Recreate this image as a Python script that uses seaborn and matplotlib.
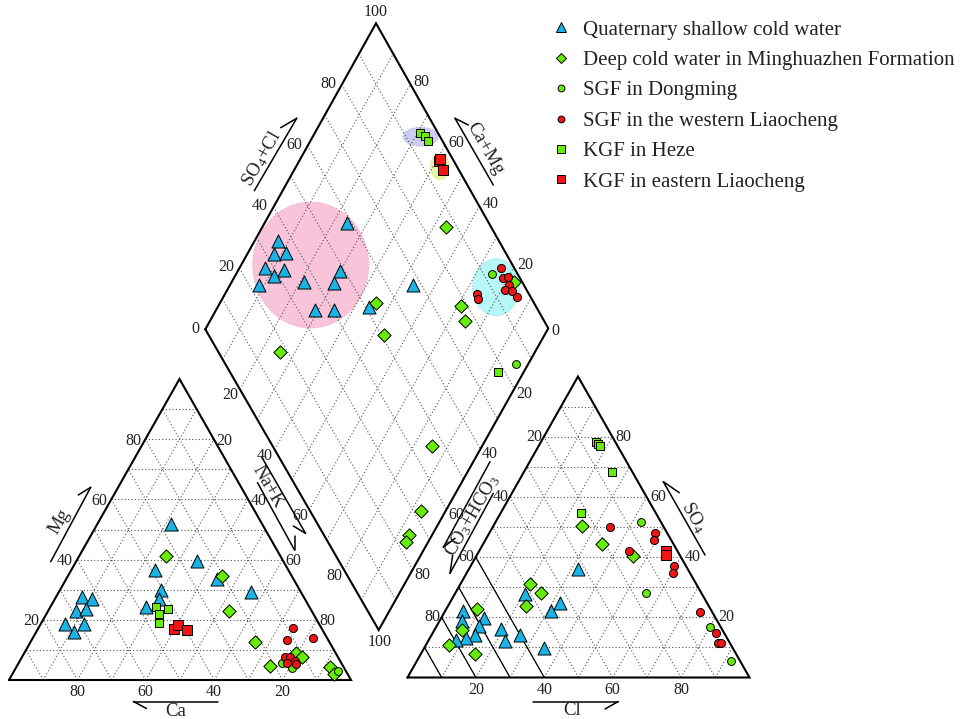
import numpy as np
import matplotlib
matplotlib.use("Agg")
import matplotlib.pyplot as plt
import seaborn as sns
from matplotlib.patches import Ellipse
from matplotlib.lines import Line2D

# ---------------------------------------------------------------- data
group_names = ["Quaternary shallow cold water",
               "Deep cold water in Minghuazhen Formation",
               "SGF in Dongming",
               "SGF in the western Liaocheng",
               "KGF in Heze",
               "KGF in eastern Liaocheng"]
tick_values = [20, 40, 60, 80]

# cation triangle (meq %)
qsc_ca = [26.7, 25.3, 38.9, 40.5, 42.6, 47.9, 22.3, 14.6, 64.7, 62.4, 68.9, 65.6, 74.3, 68.7, 73.0]
qsc_mg = [51.8, 39.6, 36.5, 29.9, 26.9, 24.2, 33.5, 29.3, 27.7, 26.8, 22.9, 23.7, 18.6, 18.6, 15.8]
dcw_ca = [33.5, 20.5, 24.2, 21.7, 21.3, 11.5, 10.6, 4.0, 4.0]
dcw_mg = [41.3, 34.6, 23.0, 12.7, 4.7, 9.1, 7.5, 4.2, 2.0]
sgfd_ca = [17.4, 15.3, 2.3]
sgfd_mg = [5.7, 3.9, 3.1]
sgfw_ca = [8.2, 12.0, 4.1, 15.4, 14.1, 13.2, 15.8, 13.4]
sgfw_mg = [17.4, 13.3, 14.1, 7.7, 7.5, 6.4, 5.7, 5.3]
kgfh_ca = [44.8, 41.8, 45.1, 46.7]
kgfh_mg = [24.4, 23.6, 21.8, 19.0]
kgfe_ca = [43.3, 41.3, 39.7]
kgfe_mg = [16.8, 18.3, 16.6]

# anion triangle (meq %)
qsc_cl = [32.0, 20.6, 32.3, 30.8, 5.2, 6.4, 12.5, 12.3, 19.5, 22.3, 26.0, 12.7, 10.6, 7.9, 35.1]
qsc_so4 = [35.9, 27.7, 24.9, 22.2, 22.2, 18.9, 19.7, 17.1, 16.0, 12.2, 14.1, 14.1, 13.0, 12.5, 9.7]
dcw_cl = [26.0, 34.8, 45.8, 20.2, 25.1, 22.7, 8.8, 8.0, 6.8, 15.8]
dcw_so4 = [50.3, 44.4, 40.4, 31.1, 28.2, 23.8, 22.9, 15.8, 10.8, 7.8]
sgfd_cl = [42.6, 55.8, 80.0, 91.8]
sgfd_so4 = [51.7, 28.2, 16.9, 5.6]
sgfw_cl = [34.3, 48.3, 49.3, 43.8, 59.4, 60.4, 74.6, 82.7, 85.1, 85.8]
sgfw_so4 = [50.1, 48.1, 45.6, 42.0, 37.0, 34.6, 21.9, 14.9, 11.6, 11.6]
kgfh_cl = [16.1, 17.0, 18.0, 25.9, 23.5]
kgfh_so4 = [78.3, 77.6, 76.9, 68.2, 54.8]
kgfe_cl = [54.5, 55.2]
kgfe_so4 = [42.1, 40.7]

# diamond (Na+K %, SO4+Cl %)
qsc_nak = [24.3, 6.9, 7.8, 11.2, 7.4, 13.4, 11.4, 8.4, 21.1, 30.1, 30.0, 28.9, 34.4, 44.2, 53.7]
qsc_scl = [58.7, 35.7, 32.3, 36.1, 27.4, 32.5, 28.6, 22.9, 36.3, 48.7, 44.9, 34.7, 40.4, 51.2, 67.6]
dcw_nak = [53.5, 45.7, 71.0, 74.6, 53.2, 25.6, 85.3, 93.0, 93.2, 93.4, 82.5]
dcw_scl = [86.7, 54.0, 78.1, 76.9, 50.8, 17.8, 46.3, 32.3, 24.6, 22.6, 97.6]
sgfd_nak = [74.7, 96.5]
sgfd_scl = [92.5, 84.8]
sgfw_nak = [76.5, 78.6, 79.7, 81.5, 81.2, 83.2, 85.7, 73.5, 74.8]
sgfw_scl = [96.1, 95.2, 96.6, 95.7, 93.7, 95.5, 96.0, 84.7, 84.2]
kgfh_nak = [30.7, 32.6, 34.4, 92.4]
kgfh_scl = [94.6, 95.6, 95.7, 77.8]
kgfe_nak = [40.8, 40.9, 43.4]
kgfe_scl = [95.6, 96.4, 95.3]

# ---------------------------------------------------------------- style
sns.set_theme(style="white")
plt.rcParams["font.family"] = ["Liberation Serif", "DejaVu Serif"]
plt.rcParams["mathtext.fontset"] = "custom"
plt.rcParams["mathtext.rm"] = "Liberation Serif"
plt.rcParams["mathtext.it"] = "Liberation Serif:italic"

BLUE, GREEN, RED = "#1ab3e6", "#66ee0a", "#f01414"
styles = [("^", BLUE, 88), ("D", GREEN, 46), ("o", GREEN, 32),
          ("o", RED, 34), ("s", GREEN, 40), ("s", RED, 44)]
legend_sizes = [6.8, 4.8, 4.9, 4.9, 5.3, 5.3]
TXT = "#222222"

# geometry (pixel frame of the figure)
C_CA, C_NAK, C_MG = (9, 680), (351, 680), (179.5, 379)
A_HCO3, A_CL, A_SO4 = (407.5, 677.5), (749.5, 677.5), (578, 376.5)
DL, DT, DR, DB = (205.3, 329.3), (376, 23.3), (548.3, 328.3), (378.7, 630)


def cat_xy(ca, mg):
    ca = np.asarray(ca, float) / 100
    mg = np.asarray(mg, float) / 100
    nak = 1 - ca - mg
    return (ca * C_CA[0] + nak * C_NAK[0] + mg * C_MG[0],
            ca * C_CA[1] + nak * C_NAK[1] + mg * C_MG[1])


def an_xy(cl, so4):
    cl = np.asarray(cl, float) / 100
    so4 = np.asarray(so4, float) / 100
    hc = 1 - cl - so4
    return (hc * A_HCO3[0] + cl * A_CL[0] + so4 * A_SO4[0],
            hc * A_HCO3[1] + cl * A_CL[1] + so4 * A_SO4[1])


def dia_xy(nak, scl):
    a = np.asarray(nak, float) / 100
    b = np.asarray(scl, float) / 100
    out = []
    for k in range(2):
        out.append(DL[k] + b * (DT[k] - DL[k]) + a * (DB[k] - DL[k])
                   + a * b * (DR[k] - DT[k] - DB[k] + DL[k]))
    return out[0], out[1]


fig = plt.figure(figsize=(9.63, 7.19), dpi=100)
ax = fig.add_axes([0, 0, 1, 1])
ax.set_xlim(0, 963)
ax.set_ylim(719, 0)
ax.axis("off")

# ellipses highlighting clusters
for (cx, cy, w, h, fc, ec) in [(310.7, 265, 116, 126, "#f8c4da", "#e9a3c6"),
                               (420.7, 136.7, 35, 19, "#cdcdf2", "#a9a9e0"),
                               (440, 166.7, 19, 26, "#e4f7a8", "#c8e680"),
                               (496, 287.3, 47, 57, "#b8f7f7", "#8fe3e3")]:
    ax.add_patch(Ellipse((cx, cy), w, h, fc=fc, ec=ec, lw=0.8, ls=":", zorder=0.5))

# grids
gkw = dict(color="#555555", lw=0.8, ls=(0, (1, 2)), zorder=1)
for v in range(10, 100, 10):
    ax.plot(*cat_xy([100 - v, 0], [v, v]), **gkw)
    ax.plot(*cat_xy([v, v], [0, 100 - v]), **gkw)
    ax.plot(*cat_xy([100 - v, 0], [0, 100 - v]), **gkw)
    ax.plot(*an_xy([0, 100 - v], [v, v]), **gkw)
    ax.plot(*an_xy([v, v], [0, 100 - v]), **gkw)
    ax.plot(*an_xy([100 - v, 0], [0, 100 - v]), **gkw)
    ax.plot(*dia_xy([v, v], [0, 100]), **gkw)
    ax.plot(*dia_xy([0, 100], [v, v]), **gkw)

# solid HCO3 lines in anion triangle
for v in [60, 70, 80, 90]:
    ax.plot(*an_xy([0, 100 - v], [100 - v, 0]), color="black", lw=0.9, zorder=1.5)

# outlines
okw = dict(color="black", lw=1.5, zorder=2, solid_joinstyle="miter")
ax.plot(*cat_xy([100, 0, 0, 100], [0, 0, 100, 0]), **okw)
ax.plot(*an_xy([0, 100, 0, 0], [0, 0, 100, 0]), **okw)
ax.plot(*dia_xy([0, 100, 100, 0, 0], [0, 0, 100, 100, 0]), **okw)

# points
panels = [
    (cat_xy, [(qsc_ca, qsc_mg), (dcw_ca, dcw_mg), (sgfd_ca, sgfd_mg),
              (sgfw_ca, sgfw_mg), (kgfh_ca, kgfh_mg), (kgfe_ca, kgfe_mg)]),
    (an_xy, [(qsc_cl, qsc_so4), (dcw_cl, dcw_so4), (sgfd_cl, sgfd_so4),
             (sgfw_cl, sgfw_so4), (kgfh_cl, kgfh_so4), (kgfe_cl, kgfe_so4)]),
    (dia_xy, [(qsc_nak, qsc_scl), (dcw_nak, dcw_scl), (sgfd_nak, sgfd_scl),
              (sgfw_nak, sgfw_scl), (kgfh_nak, kgfh_scl), (kgfe_nak, kgfe_scl)]),
]
for func, series in panels:
    for (u, w), (m, c, s) in zip(series, styles):
        x, y = func(u, w)
        sns.scatterplot(x=x, y=y, marker=m, color=c, s=s, edgecolor="black",
                        linewidth=0.7, ax=ax, zorder=3, legend=False)

# tick labels
tk = dict(fontsize=11.5, color=TXT, ha="center", va="center")
for v in tick_values:
    x, y = cat_xy(v, 0); ax.text(x, y + 12, str(v), **tk)
    x, y = cat_xy(100 - v, v); ax.text(x - 12, y + 1.5, str(v), **tk)
    x, y = cat_xy(0, 100 - v); ax.text(x + 10.5, y + 1.5, str(v), **tk)
    x, y = an_xy(v, 0); ax.text(x, y + 12.5, str(v), **tk)
    x, y = an_xy(100 - v, v); ax.text(x + 11.5, y, str(v), **tk)
    x, y = an_xy(0, 100 - v); ax.text(x - 9.5, y, str(v), **tk)
    x, y = dia_xy(0, v); ax.text(x - 13.6, y - 0.8, str(v), **tk)
    x, y = dia_xy(100 - v, 100); ax.text(x + 11.3, y - 2.5, str(v), **tk)
    x, y = dia_xy(v, 0); ax.text(x - 9.5, y + 6, str(v), **tk)
    x, y = dia_xy(100, 100 - v); ax.text(x + 9.4, y + 5.4, str(v), **tk)
ax.text(DT[0], DT[1] - 11, "100", **tk)
ax.text(DB[0] + 1.3, DB[1] + 12.3, "100", **tk)
ax.text(DL[0] - 10, DL[1], "0", **tk)
ax.text(DR[0] + 7.5, DR[1] + 3, "0", **tk)

# axis titles with half arrows
lk = dict(fontsize=13.5, color=TXT, ha="center", va="center")
ak = dict(color="black", lw=1.1, zorder=2)


def half_arrow(p0, p1, barb):
    ax.plot([p0[0], p1[0]], [p0[1], p1[1]], **ak)
    ax.plot([p1[0], barb[0]], [p1[1], barb[1]], **ak)


ax.text(176, 711, "Ca", **lk)
half_arrow((218, 701.5), (133.5, 701.5), (146.5, 708.5))
ax.text(571.7, 710.7, "Cl", **lk)
half_arrow((533, 701.5), (618.3, 701.5), (605, 709))
ax.text(60, 521.7, "Mg", rotation=60, **lk)
half_arrow((50.7, 561.7), (90.7, 487.3), (78.3, 495))
ax.text(268.3, 486.7, "Na+K", rotation=-60, **lk)
half_arrow((261.7, 457), (305.5, 533.3), (293.3, 526))
half_arrow((257.5, 482.7), (294.5, 550), (294.5, 535.5))
ax.text(261.7, 158.3, "SO$_4$+Cl", rotation=60, **lk)
half_arrow((254.3, 190.7), (296.7, 118.3), (280.7, 127.7))
ax.text(485, 148.3, "Ca+Mg", rotation=-60, **lk)
half_arrow((493.3, 185), (455, 118.3), (468.3, 125))
ax.text(693.3, 516.7, "SO$_4$", rotation=-60, **lk)
half_arrow((705, 555), (663.3, 481.7), (679.3, 492.7))
ax.text(472.7, 515, "CO$_3$+HCO$_3$", rotation=60, **lk)
half_arrow((490, 461.7), (443.3, 547.3), (455, 538.3))
half_arrow((493.3, 493.3), (450, 573.3), (452.7, 555))

# legend
handles = [Line2D([], [], marker=m, ls="none", markersize=ms, markerfacecolor=c,
                  markeredgecolor="black", markeredgewidth=0.7)
           for (m, c, _), ms in zip(styles, legend_sizes)]
ax.legend(handles, group_names, loc="upper left",
          bbox_to_anchor=(550.5 / 963, 1 - 20 / 719), bbox_transform=fig.transFigure,
          frameon=False, fontsize=15, handlelength=1.0, handletextpad=0.56,
          labelspacing=0.52, borderpad=0, borderaxespad=0, labelcolor=TXT)

fig.savefig("out.png", dpi=100)
